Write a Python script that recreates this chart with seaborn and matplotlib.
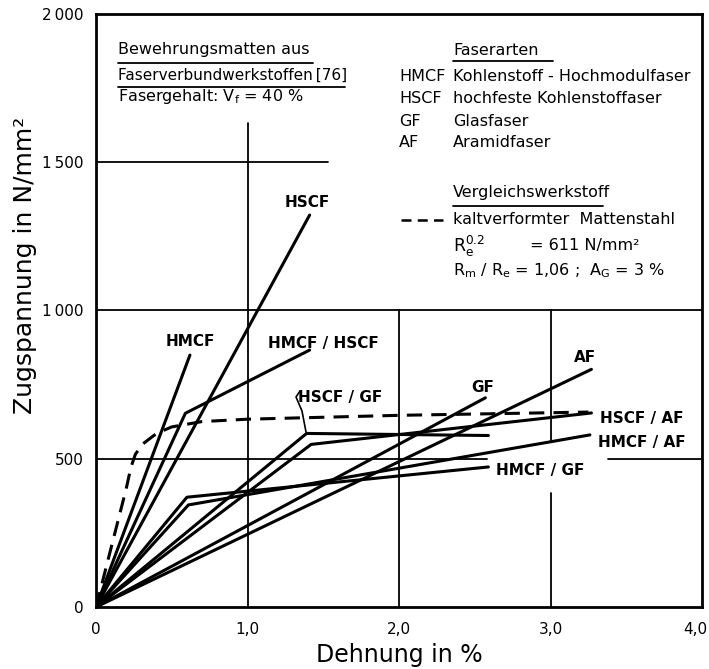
import numpy as np
import pandas as pd
import matplotlib
matplotlib.use("Agg")
import matplotlib.pyplot as plt
import matplotlib.transforms as mtransforms
import seaborn as sns

# ---------------- data (strain in %, stress in N/mm²) ----------------
hmcf_x = [0, 0.62]
hmcf_y = [0, 849]
hscf_x = [0, 1.41]
hscf_y = [0, 1321]
hmcf_hscf_x = [0, 0.59, 1.41]
hmcf_hscf_y = [0, 653, 866]
hscf_gf_x = [0, 1.39, 2.59]
hscf_gf_y = [0, 585, 578]
hscf_af_x = [0, 1.42, 3.27]
hscf_af_y = [0, 548, 654]
hmcf_gf_x = [0, 0.60, 2.59]
hmcf_gf_y = [0, 370, 472]
hmcf_af_x = [0, 0.61, 3.26]
hmcf_af_y = [0, 344, 580]
gf_x = [0, 2.57]
gf_y = [0, 705]
af_x = [0, 3.27]
af_y = [0, 801]
steel_x = [0, 0.12, 0.20, 0.23, 0.26, 0.31, 0.40, 0.50, 0.70, 1.00, 2.00, 3.25]
steel_y = [0, 240, 400, 470, 515, 550, 585, 607, 625, 633, 646, 657]

x_ticks = [0, 1, 2, 3, 4]
x_ticklabels = ["0", "1,0", "2,0", "3,0", "4,0"]
y_ticks = [0, 500, 1000, 1500, 2000]
y_ticklabels = ["0", "500", "1\u2009000", "1\u2009500", "2\u2009000"]

curves = [
    ("HMCF", "fiber", hmcf_x, hmcf_y),
    ("HSCF", "fiber", hscf_x, hscf_y),
    ("HMCF / HSCF", "fiber", hmcf_hscf_x, hmcf_hscf_y),
    ("HSCF / GF", "fiber", hscf_gf_x, hscf_gf_y),
    ("HSCF / AF", "fiber", hscf_af_x, hscf_af_y),
    ("HMCF / GF", "fiber", hmcf_gf_x, hmcf_gf_y),
    ("HMCF / AF", "fiber", hmcf_af_x, hmcf_af_y),
    ("GF", "fiber", gf_x, gf_y),
    ("AF", "fiber", af_x, af_y),
    ("Stahl", "steel", steel_x, steel_y),
]
rows = []
for name, kind, xs, ys in curves:
    for i, (xv, yv) in enumerate(zip(xs, ys)):
        rows.append({"series": name, "kind": kind, "order": i, "x": xv, "y": yv})
df = pd.DataFrame(rows)

# ---------------- style ----------------
sns.set_theme(style="white")
plt.rcParams["font.family"] = ["DejaVu Sans"]
plt.rcParams["mathtext.default"] = "regular"
plt.rcParams["text.color"] = "black"
plt.rcParams["axes.labelcolor"] = "black"
plt.rcParams["xtick.color"] = "black"
plt.rcParams["ytick.color"] = "black"

W, H = 709, 669
fig = plt.figure(figsize=(W / 100, H / 100), dpi=100)
X0, Y0, XPX, YPX = 96, 607, 151.5, 0.2967
ax = fig.add_axes([X0 / W, (H - Y0) / H, 4 * XPX / W, 2000 * YPX / H])
ax.set_xlim(0, 4)
ax.set_ylim(0, 2000)


def P(px, py):
    """pixel position -> data coords (for text placement)"""
    return (px - X0) / XPX, (Y0 - py) / YPX


# partial grid lines
for yv, xa, xb in [(1500, 0, 1.53), (1000, 0, 4), (500, 0, 2.58), (500, 3.38, 4)]:
    ax.plot([xa, xb], [yv, yv], color="black", lw=1.3, zorder=1)
for xv, ya, yb in [(1, 0, 1630), (2, 0, 1000), (3, 0, 384), (3, 557, 1000)]:
    ax.plot([xv, xv], [ya, yb], color="black", lw=1.3, zorder=1)

sns.lineplot(data=df, x="x", y="y", units="series", style="kind",
             dashes={"fiber": "", "steel": (5, 3)}, color="black",
             estimator=None, sort=False, legend=False, lw=2.2, ax=ax, zorder=3)

for s in ax.spines.values():
    s.set_color("black")
    s.set_linewidth(2)

ax.set_xticks(x_ticks)
ax.set_xticklabels(x_ticklabels)
ax.set_yticks(y_ticks)
ax.set_yticklabels(y_ticklabels)
ax.tick_params(axis="both", length=0, labelsize=11, colors="black")
ax.tick_params(axis="x", pad=11)
ax.tick_params(axis="y", pad=9)
last = ax.get_xticklabels()[-1]
last.set_transform(last.get_transform() + mtransforms.ScaledTranslation(-5 / 72, 0, fig.dpi_scale_trans))
ax.set_xlabel("Dehnung in %", fontsize=17, labelpad=4)
ax.set_ylabel("Zugspannung in N/mm²", fontsize=18)
ax.yaxis.set_label_coords(-0.097, 0.576)

# curve labels
lab_fs = 11
for txt, (px, py) in [("HSCF", (307, 203)), ("HMCF", (190, 342)),
                      ("HMCF / HSCF", (323, 344)), ("HSCF / GF", (340, 398)),
                      ("GF", (483, 387)), ("AF", (585, 358)),
                      ("HSCF / AF", (642, 418)), ("HMCF / AF", (642, 442)),
                      ("HMCF / GF", (540, 470))]:
    ax.text(*P(px, py), txt, ha="center", va="center", fontsize=lab_fs,
            fontweight="bold", zorder=5)
# leader for HSCF / GF
lx, ly = zip(P(300, 391), P(296, 397), P(302, 411), P(306, 432))
ax.plot(lx, ly, color="black", lw=1.2, zorder=4)

# text block left
tfs = 11.5
ax.text(*P(118, 50), "Bewehrungsmatten aus", ha="left", va="center", fontsize=tfs)
ax.text(*P(118, 75), "Faserverbundwerkstoffen\u2009[76]", ha="left", va="center", fontsize=11)
ax.text(*P(118, 97), "Fasergehalt: V$_f$ = 40 %", ha="left", va="center", fontsize=tfs)
for (xa, xb, yy) in [(118, 313, 63), (118, 345, 87)]:
    a, b = P(xa, yy), P(xb, yy)
    ax.plot([a[0], b[0]], [a[1], b[1]], color="black", lw=1.3)

# text block right
ax.text(*P(453, 51), "Faserarten", ha="left", va="center", fontsize=tfs)
a, b = P(453, 61), P(553, 61)
ax.plot([a[0], b[0]], [a[1], b[1]], color="black", lw=1.3)
for ab, desc, py in [("HMCF", "Kohlenstoff - Hochmodulfaser", 77),
                     ("HSCF", "hochfeste Kohlenstoffaser", 99),
                     ("GF", "Glasfaser", 121),
                     ("AF", "Aramidfaser", 143)]:
    ax.text(*P(399, py), ab, ha="left", va="center", fontsize=tfs)
    ax.text(*P(453, py), desc, ha="left", va="center", fontsize=tfs)
ax.text(*P(453, 193), "Vergleichswerkstoff", ha="left", va="center", fontsize=tfs)
a, b = P(453, 206), P(603, 206)
ax.plot([a[0], b[0]], [a[1], b[1]], color="black", lw=1.3)
a, b = P(401, 220), P(443, 220)
ax.plot([a[0], b[0]], [a[1], b[1]], color="black", lw=1.8, dashes=(4, 2.5))
ax.text(*P(453, 220), "kaltverformter  Mattenstahl", ha="left", va="center", fontsize=tfs)
ax.text(*P(453, 246), "R$_e^{0.2}$", ha="left", va="center", fontsize=tfs + 1)
ax.text(*P(530, 246), "= 611 N/mm²", ha="left", va="center", fontsize=tfs)
ax.text(*P(453, 271), "R$_m$ / R$_e$ = 1,06 ;  A$_G$ = 3 %", ha="left", va="center", fontsize=tfs)

fig.savefig("out.png", dpi=100)
